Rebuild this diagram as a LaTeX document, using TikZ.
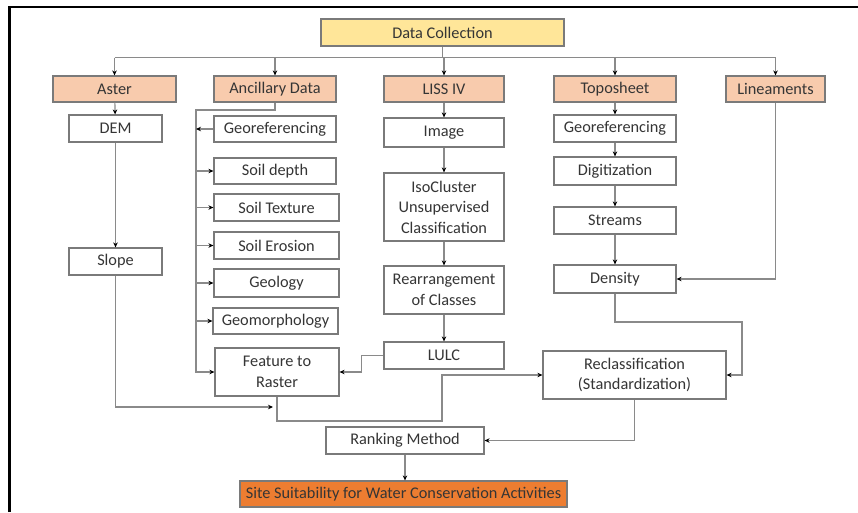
\documentclass[tikz,border=0pt]{standalone}
\usepackage{fontspec}
\setmainfont{Carlito}
\usetikzlibrary{arrows.meta,calc}
\definecolor{peach}{HTML}{F8CBAD}
\definecolor{paleyellow}{HTML}{FFE699}
\definecolor{siteorange}{HTML}{ED7D31}
\definecolor{boxgray}{HTML}{7A7A7A}
\definecolor{textgray}{HTML}{353535}
\definecolor{linegray}{HTML}{8A8A8A}
\tikzset{
box/.style={draw=boxgray, line width=1.2pt, fill=white, text=textgray, inner sep=0pt, align=center, minimum height=27},
head/.style={box, fill=peach, minimum height=26},
line/.style={draw=linegray, line width=1.2pt},
arr/.style={line, -{Stealth[length=5pt,width=4.5pt,black]}},
frame/.style={black, line width=#1},
}
\tikzstyle{every node}=[font=\fontsize{16.3}{20.5}\selectfont]

\begin{document}
\begin{tikzpicture}[x=1pt, y=-1pt]
    \useasboundingbox (0,0) rectangle (858,512);
    \draw[frame=3pt] (9.5,512) -- (9.5,7);
    \draw[frame=2pt] (8,7) -- (858,7);

    % sources
    \node[box, fill=paleyellow, minimum width=243] (dc) at (442.5,32.5) {Data Collection};
    \node[head, minimum width=123] (aster) at (114.5,89) {Aster};
    \node[head, minimum width=122] (anc) at (275,89) {Ancillary Data};
    \node[head, minimum width=120] (liss) at (444,89) {LISS IV};
    \node[head, minimum width=122] (topo) at (615,89) {Toposheet};
    \node[head, minimum width=99] (lin) at (775.5,89) {Lineaments};

    \draw[line] (dc.south) -- ++(0,11) coordinate (bus);
    \draw[line] (aster.north |- bus) -- (lin.north |- bus);
    \foreach \n in {aster,anc,liss,topo,lin}
        \draw[arr] (\n.north |- bus) -- (\n.north);

    % aster
    \node[box, minimum width=93] (dem) at (115.5,128.5) {DEM};
    \node[box, minimum width=93] (slope) at (115.5,261.5) {Slope};

    % ancillary data
    \node[box, minimum width=122, minimum height=26] (georefA) at (275,129) {Georeferencing};
    \node[box, minimum width=122, minimum height=26] (soildepth) at (275,171) {Soil depth};
    \node[box, minimum width=125] (soiltex) at (276.5,207.5) {Soil Texture};
    \node[box, minimum width=125] (soilero) at (276.5,245.5) {Soil Erosion};
    \node[box, minimum width=125, minimum height=28] (geology) at (276.5,283) {Geology};
    \node[box, minimum width=125, minimum height=26] (geomorph) at (275.5,321) {Geomorphology};
    \node[box, minimum width=124, minimum height=48] (feat) at (277,372) {Feature to\\Raster};

    % liss iv
    \node[box, minimum width=120, minimum height=29] (image) at (444,132.5) {Image};
    \node[box, minimum width=120, minimum height=68] (iso) at (444,207) {IsoCluster\\Unsupervised\\Classification};
    \node[box, minimum width=120, minimum height=48] (rearr) at (444,290) {Rearrangement\\of Classes};
    \node[box, minimum width=120] (lulc) at (444,355.5) {LULC};

    % toposheet
    \node[box, minimum width=122] (georefB) at (615,128.5) {Georeferencing};
    \node[box, minimum width=122, minimum height=28] (digit) at (615,171) {Digitization};
    \node[box, minimum width=122] (streams) at (615,220.5) {Streams};
    \node[box, minimum width=122, minimum height=28] (density) at (615,279) {Density};

    % analysis
    \node[box, minimum width=183, minimum height=48] (reclass) at (634.5,375) {Reclassification\\(Standardization)};
    \node[box, minimum width=158] (rank) at (405,440.5) {Ranking Method};
    \node[box, fill=siteorange, minimum width=327, minimum height=26] (site) at (403.5,494) {Site Suitability for Water Conservation Activities};

    \coordinate (ancbus) at (196,110);
    \coordinate (slopebend) at (273,407);
    \coordinate (featbend) at (442,421);
    \coordinate (densbend) at (742,322);

    \draw[arr] (aster) -- (dem);
    \draw[arr] (dem) -- (slope);
    \draw[arr] (slope.south) |- (slopebend);

    \draw[arr] (anc.south) |- (ancbus) |- (feat.west);
    \draw[arr] (georefA.west) -- (ancbus |- georefA.west);
    \foreach \n in {soildepth,soiltex,soilero,geology,geomorph}
        \draw[arr] (ancbus |- \n.west) -- (\n.west);

    \draw[arr] (liss) -- (image);
    \draw[arr] (image) -- (iso);
    \draw[arr] (iso) -- (rearr);
    \draw[arr] (rearr) -- (lulc);
    \draw[arr] (lulc.west) -- ++(-22,0) |- (feat.east);

    \draw[arr] (topo) -- (georefB);
    \draw[arr] (georefB) -- (digit);
    \draw[arr] (digit) -- (streams);
    \draw[arr] (streams) -- (density);
    \draw[arr] (lin.south) |- (density.east);

    \draw[arr] (density.south) |- (densbend) |- (reclass.east);
    \draw[arr] (feat.south) |- (featbend) |- (reclass.west);
    \draw[arr] (reclass.south) |- (rank.east);
    \draw[arr] (rank.south) -- (rank.south |- site.north);
\end{tikzpicture}
\end{document}
